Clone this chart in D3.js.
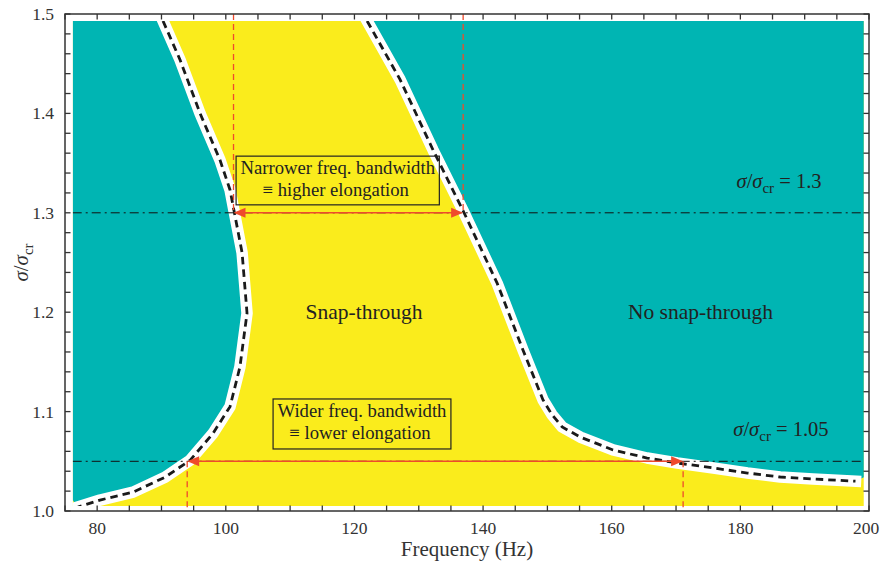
<!DOCTYPE html>
<html><head><meta charset="utf-8">
<script src="https://cdn.jsdelivr.net/npm/d3@7"></script>
<style>body{margin:0;background:#fff}</style>
</head><body><svg id="c" width="883" height="569"></svg>
<script>
// ---- data ----
const freqDomain = [75, 200];
const sigmaDomain = [1.0, 1.5];
const xTickValues = d3.range(75, 201, 5);
const xTickLabels = [80, 100, 120, 140, 160, 180, 200];
const yTickValues = d3.range(1.0, 1.5001, 0.02);
const yTickLabels = [1.0, 1.1, 1.2, 1.3, 1.4, 1.5];
const fillFreq = [76.2, 199.2];
const fillSigma = [1.005, 1.493];
const leftTealBottom = 1.011;
const rightTealBottom = 1.034;
const leftBoundary = [
  [90.24,1.493],[92.88,1.454],[96.0,1.400],[99.1,1.353],[100.66,1.323],[101.28,1.302],
  [102.53,1.260],[103.3,1.199],[102.2,1.145],[100.66,1.105],[98.0,1.078],[94.44,1.051],
  [90.55,1.034],[85.58,1.019],[80.44,1.011],[77.0,1.004]
];
const rightBoundary = [
  [121.97,1.493],[127.1,1.434],[132.23,1.363],[136.9,1.302],[142.2,1.229],[146.2,1.162],
  [149.3,1.112],[150.7,1.097],[152.3,1.0845],[155.1,1.0744],[160.2,1.0614],[165.5,1.0533],
  [170.2,1.0483],[175.8,1.0433],[181.1,1.0382],[186.2,1.0342],[191.3,1.0322],[197.9,1.030]
];
const refLevels = [1.3, 1.05];
const refLabels = ["1.3", "1.05"];
const bands = [
  {sigma: 1.3, from: 101.2, to: 136.9, line1: "Narrower freq. bandwidth", line2: "\u2261 higher elongation"},
  {sigma: 1.05, from: 94.0, to: 171.1, line1: "Wider freq. bandwidth", line2: "\u2261 lower elongation"}
];
const regionLabels = [
  {text: "Snap-through", f: 121.5, s: 1.2},
  {text: "No snap-through", f: 173.8, s: 1.2}
];

// ---- layout ----
const svg = d3.select("#c");
const L = 65, R = 869, T = 14, B = 511;
const x = d3.scaleLinear().domain(freqDomain).range([L, R]);
const y = d3.scaleLinear().domain(sigmaDomain).range([B, T]);
const TEAL = "#00B5B3", YELLOW = "#FAEC1C", RED = "#EF4A2C", AX = "#333";
const serif = "'Liberation Serif', 'DejaVu Serif', serif";

const defs = svg.append("defs");
defs.append("clipPath").attr("id", "fillclip").append("rect")
  .attr("x", x(fillFreq[0])).attr("y", y(fillSigma[1]))
  .attr("width", x(fillFreq[1]) - x(fillFreq[0]))
  .attr("height", y(fillSigma[0]) - y(fillSigma[1]));

const g = svg.append("g").attr("clip-path", "url(#fillclip)");
g.append("rect")
  .attr("x", x(fillFreq[0])).attr("y", y(fillSigma[1]))
  .attr("width", x(fillFreq[1]) - x(fillFreq[0]))
  .attr("height", y(fillSigma[0]) - y(fillSigma[1]))
  .attr("fill", YELLOW);

const line = d3.line().x(d => x(d[0])).y(d => y(d[1]));
const leftPoly = [[fillFreq[0], fillSigma[1]]].concat(leftBoundary, [[fillFreq[0], leftTealBottom]]);
const rightPoly = rightBoundary.concat([[fillFreq[1], rightTealBottom], [fillFreq[1], fillSigma[1]]]);
[leftPoly, rightPoly].forEach(p => g.append("path").attr("d", line(p) + "Z").attr("fill", TEAL));

[leftBoundary, rightBoundary].forEach(b => {
  g.append("path").attr("d", line(b)).attr("fill", "none").attr("stroke", "#fff")
    .attr("stroke-width", 11.5).attr("stroke-linecap", "square").attr("stroke-linejoin", "round");
});
[leftBoundary, rightBoundary].forEach(b => {
  g.append("path").attr("d", line(b)).attr("fill", "none").attr("stroke", "#1a1a1a")
    .attr("stroke-width", 2.8).attr("stroke-dasharray", "7.5,5");
});

// dash-dot reference lines
refLevels.forEach(s => {
  g.append("line").attr("x1", x(fillFreq[0])).attr("x2", x(fillFreq[1]))
    .attr("y1", y(s)).attr("y2", y(s)).attr("stroke", "#111").attr("stroke-width", 1)
    .attr("stroke-dasharray", "9,4,2,4");
});

// red vertical dashed lines and arrows
bands.forEach((b, i) => {
  const yTop = i === 0 ? sigmaDomain[1] : b.sigma;
  const yBot = i === 0 ? b.sigma : sigmaDomain[0];
  [b.from, b.to].forEach(f => {
    svg.append("line").attr("x1", x(f)).attr("x2", x(f)).attr("y1", y(yTop)).attr("y2", y(yBot))
      .attr("stroke", RED).attr("stroke-width", 1.3).attr("stroke-dasharray", "6,4");
  });
  const yy = y(b.sigma), x1 = x(b.from), x2 = x(b.to), hl = 12, hw = 5;
  svg.append("line").attr("x1", x1 + hl - 1).attr("x2", x2 - hl + 1).attr("y1", yy).attr("y2", yy)
    .attr("stroke", RED).attr("stroke-width", 1.5);
  svg.append("path").attr("d", `M${x1},${yy}L${x1 + hl},${yy - hw}L${x1 + hl},${yy + hw}Z`).attr("fill", RED);
  svg.append("path").attr("d", `M${x2},${yy}L${x2 - hl},${yy - hw}L${x2 - hl},${yy + hw}Z`).attr("fill", RED);
});

// annotation boxes
const boxes = [
  {f0: 101.6, f1: 133.2, s0: 1.308, s1: 1.357},
  {f0: 107.35, f1: 135.0, s0: 1.0624, s1: 1.1127}
];
bands.forEach((b, i) => {
  const bx = boxes[i];
  const X0 = x(bx.f0), X1 = x(bx.f1), Y0 = y(bx.s1), Y1 = y(bx.s0);
  svg.append("rect").attr("x", X0).attr("y", Y0).attr("width", X1 - X0).attr("height", Y1 - Y0)
    .attr("fill", "none").attr("stroke", "#222").attr("stroke-width", 1.2);
  const cx = (X0 + X1) / 2;
  svg.append("text").attr("x", cx).attr("y", Y0 + 18).attr("text-anchor", "middle")
    .attr("font-family", serif).attr("font-size", 18.7).attr("fill", "#222").text(b.line1);
  svg.append("text").attr("x", cx - 2).attr("y", Y0 + 40).attr("text-anchor", "middle")
    .attr("font-family", serif).attr("font-size", 18.7).attr("fill", "#222").text(b.line2);
});

// region labels
regionLabels.forEach(r => {
  svg.append("text").attr("x", x(r.f)).attr("y", y(r.s) + 7).attr("text-anchor", "middle")
    .attr("font-family", serif).attr("font-size", 21.5).attr("fill", "#222").text(r.text);
});

// sigma labels
const sigPos = [{f: 179.4, s: 1.3245}, {f: 178.9, s: 1.0755}];
refLevels.forEach((s, i) => {
  const t = svg.append("text").attr("x", x(sigPos[i].f)).attr("y", y(sigPos[i].s))
    .attr("font-family", serif).attr("font-size", 20.5).attr("fill", "#222");
  t.append("tspan").attr("font-style", "italic").text("\u03C3");
  t.append("tspan").text("/");
  t.append("tspan").attr("font-style", "italic").text("\u03C3");
  t.append("tspan").attr("font-size", 15).attr("dy", 5).text("cr");
  t.append("tspan").attr("dy", -5).text(" = " + refLabels[i]);
});

// axes frame
const ax = svg.append("g");
ax.append("rect").attr("x", L).attr("y", T).attr("width", R - L).attr("height", B - T)
  .attr("fill", "none").attr("stroke", AX).attr("stroke-width", 1.5);
const tl = 5.5;
xTickValues.forEach(v => {
  ax.append("line").attr("x1", x(v)).attr("x2", x(v)).attr("y1", B).attr("y2", B - tl).attr("stroke", AX).attr("stroke-width", 1.3);
  ax.append("line").attr("x1", x(v)).attr("x2", x(v)).attr("y1", T).attr("y2", T + tl).attr("stroke", AX).attr("stroke-width", 1.3);
});
yTickValues.forEach(v => {
  ax.append("line").attr("x1", L).attr("x2", L + tl).attr("y1", y(v)).attr("y2", y(v)).attr("stroke", AX).attr("stroke-width", 1.3);
  ax.append("line").attr("x1", R).attr("x2", R - tl).attr("y1", y(v)).attr("y2", y(v)).attr("stroke", AX).attr("stroke-width", 1.3);
});
xTickLabels.forEach(v => {
  ax.append("text").attr("x", x(v) - (v === 200 ? 3 : 0)).attr("y", B + 23).attr("text-anchor", "middle")
    .attr("font-family", serif).attr("font-size", 17.5).attr("fill", AX).text(v);
});
yTickLabels.forEach(v => {
  ax.append("text").attr("x", L - 11).attr("y", y(v) + 6).attr("text-anchor", "end")
    .attr("font-family", serif).attr("font-size", 17.5).attr("fill", AX).text(v.toFixed(1));
});
ax.append("text").attr("x", (L + R) / 2).attr("y", 556).attr("text-anchor", "middle")
  .attr("font-family", serif).attr("font-size", 21).attr("fill", AX).text("Frequency (Hz)");
const yl = ax.append("text").attr("transform", `translate(28,${(T + B) / 2}) rotate(-90)`)
  .attr("text-anchor", "middle").attr("font-family", serif).attr("font-size", 21).attr("fill", AX);
yl.append("tspan").attr("font-style", "italic").text("\u03C3");
yl.append("tspan").text("/");
yl.append("tspan").attr("font-style", "italic").text("\u03C3");
yl.append("tspan").attr("font-size", 15).attr("dy", 5).text("cr");
</script></body></html>
